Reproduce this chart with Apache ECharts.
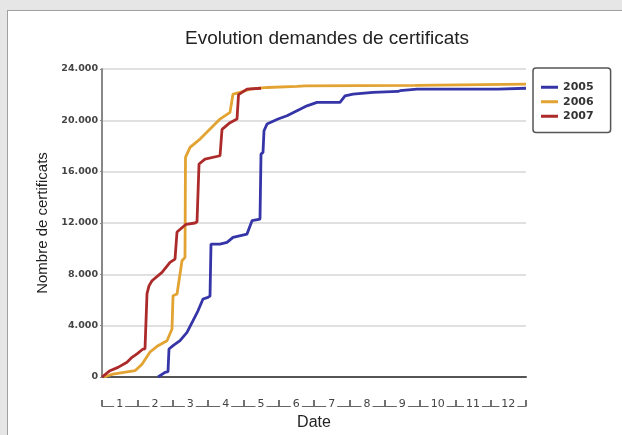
<!DOCTYPE html>
<html>
<head>
<meta charset="utf-8">
<script src="https://cdn.jsdelivr.net/npm/echarts@6/dist/echarts.min.js"></script>
<style>
  html, body { margin: 0; padding: 0; width: 622px; height: 435px; overflow: hidden; background: #e6e6e6; }
  #panel { position: absolute; left: 7px; top: 10px; width: 640px; height: 460px; background: #fff; border: 1px solid #a0a0a0; box-sizing: border-box; }
  #chart { position: absolute; left: 0; top: 0; width: 622px; height: 435px; }
</style>
</head>
<body>
<div id="panel"></div>
<div id="chart"></div>
<script>
// ---- Data (x = month index 0..12, y = cumulative number of certificates) ----
const titleText = 'Evolution demandes de certificats';
const yAxisName = 'Nombre de certificats';
const xAxisName = 'Date';
const monthLabels = ['1','2','3','4','5','6','7','8','9','10','11','12'];
const seriesNames = ['2005', '2006', '2007'];

const data2005 = [
  [1.585, 0], [1.783, 360], [1.868, 420], [1.896, 2180], [2.010, 2440], [2.208, 2830],
  [2.406, 3480], [2.576, 4390], [2.717, 5160], [2.859, 6080], [3.000, 6210], [3.057, 6300],
  [3.085, 10360], [3.340, 10360], [3.538, 10490], [3.708, 10880], [4.104, 11140],
  [4.246, 12180], [4.472, 12310], [4.500, 17370], [4.557, 17500], [4.585, 19190],
  [4.670, 19710], [4.982, 20100], [5.236, 20360], [5.519, 20750], [5.802, 21130],
  [6.085, 21400], [6.736, 21400], [6.878, 21910], [7.104, 22050], [7.670, 22180],
  [8.378, 22250], [8.435, 22310], [8.916, 22430], [11.209, 22430], [11.265, 22500], [12, 22500]
];
const data2006 = [
  [0.057, 0], [0.170, 100], [0.311, 230], [0.934, 490], [1.132, 1000], [1.359, 1950],
  [1.585, 2440], [1.840, 2830], [1.981, 3740], [2.010, 6330], [2.123, 6470], [2.264, 9060],
  [2.349, 9320], [2.363, 17110], [2.491, 17890], [2.774, 18540], [3.057, 19320],
  [3.340, 20100], [3.623, 20620], [3.708, 22050], [3.906, 22180], [4.189, 22430],
  [4.670, 22560], [5.519, 22650], [5.746, 22690], [8.859, 22720], [8.888, 22820], [12, 22820]
];
const data2007 = [
  [0, 0], [0.226, 490], [0.453, 750], [0.708, 1150], [0.849, 1530], [0.991, 1800],
  [1.160, 2180], [1.217, 2200], [1.274, 6500], [1.330, 7100], [1.415, 7500], [1.698, 8150],
  [1.925, 8930], [2.066, 9190], [2.123, 11300], [2.378, 11900], [2.632, 12000], [2.689, 12100],
  [2.746, 16600], [2.915, 16980], [3.340, 17240], [3.397, 19300], [3.623, 19820],
  [3.821, 20100], [3.864, 22000], [4.104, 22430], [4.500, 22500]
];
const seriesColors = ['#3535a8', '#e2a332', '#ad2a2a'];

// ---- Chart ----
const chart = echarts.init(document.getElementById('chart'), null, { renderer: 'canvas' });
const allData = [data2005, data2006, data2007];

function fmtThousands(v) {
  return String(v).replace(/\B(?=(\d{3})+(?!\d))/g, '.');
}

chart.setOption({
  animation: false,
  backgroundColor: 'transparent',
  title: {
    text: titleText,
    left: 180,
    top: 24,
    textStyle: { fontFamily: 'Liberation Sans', fontSize: 19, fontWeight: 'normal', color: '#222' }
  },
  legend: {
    orient: 'vertical',
    left: 533,
    top: 68,
    padding: [13, 17, 10, 8],
    itemGap: 2,
    itemWidth: 17,
    itemHeight: 3,
    icon: 'rect',
    borderColor: '#555',
    borderWidth: 1.5,
    borderRadius: 3,
    textStyle: { fontFamily: 'DejaVu Sans', fontSize: 11, fontWeight: 'bold', color: '#333', lineHeight: 12.5 },
    data: seriesNames
  },
  grid: { left: 102, right: 96, top: 69, bottom: 58, containLabel: false, outerBoundsMode: 'none' },
  xAxis: [
    {
      type: 'value', min: 0, max: 12,
      name: xAxisName, nameLocation: 'middle', nameGap: 38,
      nameTextStyle: { fontFamily: 'Liberation Sans', fontSize: 16, color: '#222' },
      axisLine: { show: true, lineStyle: { color: '#555', width: 2 } },
      axisTick: { show: false }, axisLabel: { show: false }, splitLine: { show: false }
    },
    {
      type: 'category', position: 'bottom', offset: 29, data: monthLabels,
      boundaryGap: true,
      axisLine: { show: true, lineStyle: { color: '#666', width: 1.2 } },
      axisTick: { show: true, inside: true, length: 6, lineStyle: { color: '#444', width: 1.5 } },
      axisLabel: {
        margin: -2, verticalAlign: 'middle', interval: 0,
        fontFamily: 'DejaVu Sans', fontSize: 11, color: '#444',
        backgroundColor: '#fff', padding: [0, 2, 0, 2]
      },
      splitLine: { show: false }
    }
  ],
  yAxis: {
    type: 'value', min: 0, max: 24000, interval: 4000,
    name: yAxisName, nameLocation: 'middle', nameGap: 52, nameRotate: 90,
    nameTextStyle: { fontFamily: 'Liberation Sans', fontSize: 15, color: '#222' },
    axisLine: { show: true, lineStyle: { color: '#888', width: 2 } },
    axisTick: { show: true, length: 2, lineStyle: { color: '#888' } },
    axisLabel: {
      formatter: fmtThousands, margin: 4,
      fontFamily: 'DejaVu Sans', fontSize: 9.5, fontWeight: 'bold', color: '#444'
    },
    splitLine: { show: true, lineStyle: { color: '#e0e0e0', width: 2 } }
  },
  series: seriesNames.map((name, i) => ({
    name: name,
    type: 'line',
    xAxisIndex: 0,
    data: allData[i],
    showSymbol: false,
    symbol: 'none',
    lineStyle: { color: seriesColors[i], width: 2.8 },
    itemStyle: { color: seriesColors[i] },
    z: 2 + i
  }))
});
</script>
</body>
</html>
